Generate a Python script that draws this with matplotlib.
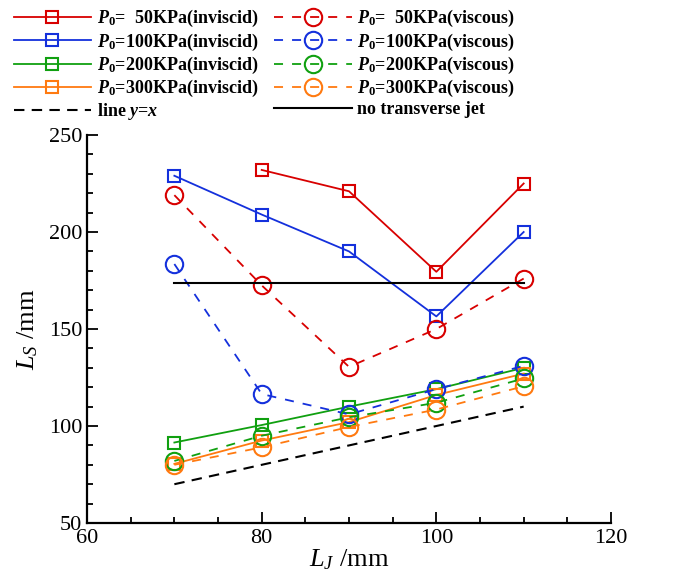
"""
Separation length L_S against jet position L_J for several injection pressures
"""

import matplotlib
matplotlib.use("Agg")
import matplotlib.pyplot as plt
import numpy as np
from matplotlib.lines import Line2D
from matplotlib.ticker import MultipleLocator

plt.rcParams["font.family"] = "Liberation Serif"
plt.rcParams["mathtext.fontset"] = "custom"
plt.rcParams["mathtext.rm"] = "Liberation Serif"
plt.rcParams["mathtext.it"] = "Liberation Serif:italic"
plt.rcParams["mathtext.bf"] = "Liberation Serif:bold"
plt.rcParams["mathtext.bfit"] = "Liberation Serif:italic:bold"

# jet position L_J (mm)
LJ = [70, 80, 90, 100, 110]
LJ_50_INV = [80, 90, 100, 110]

# separation length L_S (mm), inviscid runs
ls_inv_50 = [232, 221, 179.5, 225]
ls_inv_100 = [229, 209, 190, 156.5, 200]
ls_inv_200 = [91.5, 100.5, 110, 119, 130]
ls_inv_300 = [80.5, 92.5, 102, 116, 127]

# separation length L_S (mm), viscous runs
ls_visc_50 = [219, 172.5, 130.5, 150, 176]
ls_visc_100 = [183.5, 116.5, 106, 119, 131]
ls_visc_200 = [82, 95, 104.5, 112, 124.5]
ls_visc_300 = [80, 89, 99.5, 108.5, 120.5]

# reference case without the transverse jet
LS_NO_JET = 173.5

PRESSURES = ["50", "100", "200", "300"]
COLORS = ["#d80000", "#1430dc", "#10a010", "#ff7a10"]


def p_label(p, kind):
    pad = "  " if len(p) == 2 else ""
    return r"$\mathbfit{P}_{\mathbf{0}}$=" + pad + f"{p}KPa({kind})"


def main():
    fig = plt.figure(figsize=(6.81, 5.75), dpi=100)
    ax = fig.add_axes([0.1278, 0.0904, 0.7694, 0.6748])

    inv_x = [LJ_50_INV, LJ, LJ, LJ]
    inv_y = [ls_inv_50, ls_inv_100, ls_inv_200, ls_inv_300]
    visc_y = [ls_visc_50, ls_visc_100, ls_visc_200, ls_visc_300]

    dash = (0, (5, 5))
    inv_handles, visc_handles = [], []
    for p, c, xs, ys in zip(PRESSURES, COLORS, inv_x, inv_y):
        h, = ax.plot(xs, ys, color=c, lw=1.3, marker="s", ms=9,
                     mfc="none", mec=c, mew=1.5, label=p_label(p, "inviscid"))
        inv_handles.append(h)
    for p, c, ys in zip(PRESSURES, COLORS, visc_y):
        h, = ax.plot(LJ, ys, color=c, lw=1.3, ls=dash, marker="o", ms=12.5,
                     mfc="none", mec=c, mew=1.5, label=p_label(p, "viscous"))
        visc_handles.append(h)

    yx, = ax.plot([LJ[0], LJ[-1]], [LJ[0], LJ[-1]], color="black", lw=1.5,
                  ls=(0, (5, 3.5)), label=r"line $\mathbfit{y}$=$\mathbfit{x}$")
    nojet, = ax.plot([LJ[0], LJ[-1]], [LS_NO_JET, LS_NO_JET], color="black",
                     lw=1.5, label="no transverse jet")

    ax.set_xlim(60, 120)
    ax.set_ylim(50, 250)
    ax.xaxis.set_major_locator(MultipleLocator(20))
    ax.xaxis.set_minor_locator(MultipleLocator(5))
    ax.yaxis.set_major_locator(MultipleLocator(50))
    ax.yaxis.set_minor_locator(MultipleLocator(10))
    ax.spines["top"].set_visible(False)
    ax.spines["right"].set_visible(False)
    for s in ("left", "bottom"):
        ax.spines[s].set_linewidth(1.6)
    ax.tick_params(which="both", direction="in", width=1.3, labelsize=16,
                   top=False, right=False)
    ax.tick_params(which="major", length=8)
    ax.tick_params(which="minor", length=4.5)
    ax.tick_params(axis="x", pad=4)

    ax.set_xlabel(r"$L_J$ /mm", fontsize=19, labelpad=0)
    ax.set_ylabel(r"$L_S$ /mm", fontsize=19, labelpad=6)

    handles = inv_handles + [yx] + visc_handles + [nojet]
    fig.legend(handles=handles, labels=[h.get_label() for h in handles],
               ncol=2, loc="upper left", bbox_to_anchor=(-0.004, 1.014),
               frameon=False, numpoints=1, handlelength=4.3, handletextpad=0.3,
               columnspacing=0.9, labelspacing=0.12,
               prop={"family": "Liberation Serif", "weight": "bold", "size": 13})

    fig.savefig("out.png", dpi=100)
    plt.close(fig)


if __name__ == "__main__":
    main()
